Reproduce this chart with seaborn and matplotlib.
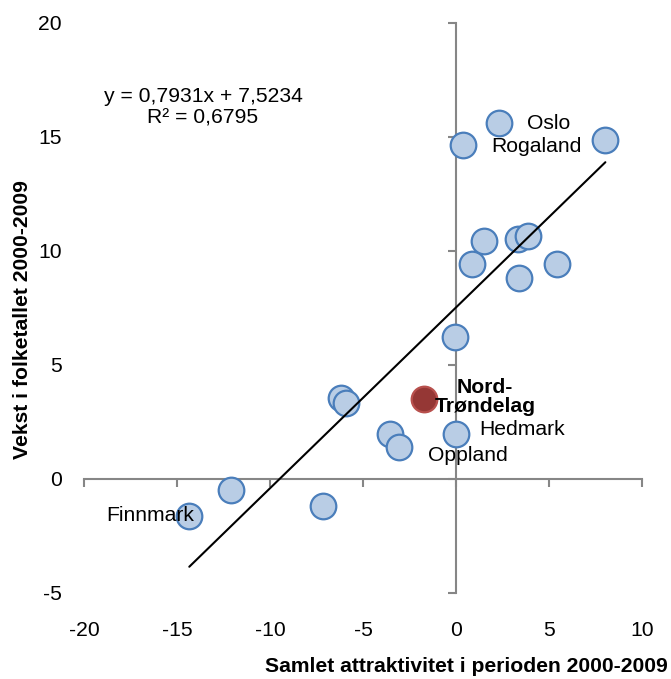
import numpy as np
import pandas as pd
import matplotlib.pyplot as plt
import seaborn as sns

# data
attraktivitet = [-14.34, -12.11, -7.13, -6.18, -5.91, -3.55, -3.05, 0.0, -0.05,
                 0.36, 0.88, 1.51, 2.31, 3.35, 3.85, 3.40, 5.43, 8.03]
vekst = [-1.62, -0.48, -1.17, 3.54, 3.35, 1.96, 1.39, 1.96, 6.24,
         14.65, 9.42, 10.45, 15.63, 10.54, 10.66, 8.80, 9.44, 14.87]
nt_x = [-1.70]
nt_y = [3.49]
slope, intercept = 0.7931, 7.5234
x_ticks = [-20, -15, -10, -5, 0, 5, 10]
y_ticks = [-5, 0, 5, 10, 15, 20]

sns.set_style('white')
plt.rcParams['font.family'] = ['Liberation Sans', 'DejaVu Sans']
plt.rcParams['axes.unicode_minus'] = False
plt.rcParams['text.color'] = 'black'
plt.rcParams['xtick.color'] = 'black'
plt.rcParams['ytick.color'] = 'black'
fs = 15.2

grey = '#868686'
fig = plt.figure(figsize=(6.71, 6.79), dpi=100)
ax = fig.add_axes([0.1252, 0.1267, 0.8316, 0.8395])

df = pd.DataFrame({'x': attraktivitet, 'y': vekst})
sns.scatterplot(data=df, x='x', y='y', s=340, color='#B9CDE5', edgecolor='#4A7EBB',
                linewidth=1.6, zorder=3, ax=ax)
sns.scatterplot(x=nt_x, y=nt_y, s=340, color='#953735', edgecolor='#B8504D',
                linewidth=1.6, zorder=3, ax=ax)

# trend line over the data range
tx = np.array([min(attraktivitet), max(attraktivitet)])
sns.lineplot(x=tx, y=slope * tx + intercept, color='black', linewidth=1.5, zorder=4, ax=ax)

ax.set_xlim(-20, 10)
ax.set_ylim(-5, 20)
ax.set_xlabel('')
ax.set_ylabel('')

# axes cross at zero
for s in ['top', 'right']:
    ax.spines[s].set_visible(False)
for s in ['left', 'bottom']:
    ax.spines[s].set_position(('data', 0))
    ax.spines[s].set_color(grey)
    ax.spines[s].set_linewidth(1.5)
ax.set_xticks(x_ticks)
ax.set_yticks(y_ticks)
ax.tick_params(axis='both', direction='out', length=6, width=1.5, color=grey,
               bottom=True, left=True, labelbottom=False, labelleft=False)

# tick labels at the frame edges
secx = ax.secondary_xaxis('bottom')
secx.set_xticks(x_ticks)
secx.tick_params(length=0, pad=20.5, labelsize=fs)
secx.spines['bottom'].set_visible(False)
secy = ax.secondary_yaxis('left')
secy.set_yticks(y_ticks)
secy.tick_params(length=0, pad=16, labelsize=fs)
secy.spines['left'].set_visible(False)

ax.text(-13.6, 16.3, 'y = 0,7931x + 7,5234\nR² = 0,6795', ha='center', va='center',
        fontsize=fs, linespacing=1.2)
ax.text(5.0, 15.57, 'Oslo', ha='center', va='center', fontsize=fs)
ax.text(4.3, 14.6, 'Rogaland', ha='center', va='center', fontsize=fs)
ax.text(-16.45, -1.62, 'Finnmark', ha='center', va='center', fontsize=fs)
ax.text(3.55, 2.15, 'Hedmark', ha='center', va='center', fontsize=fs)
ax.text(0.65, 1.05, 'Oppland', ha='center', va='center', fontsize=fs)
ax.text(1.56, 3.6, 'Nord-\nTrøndelag', ha='center', va='center', fontsize=fs,
        fontweight='bold', linespacing=1.05)

fig.text(668 / 671, 1 - 667 / 679, 'Samlet attraktivitet i perioden 2000-2009',
         ha='right', va='center', fontsize=fs, fontweight='bold')
fig.text(23 / 671, 1 - 320 / 679, 'Vekst i folketallet 2000-2009', rotation=90,
         ha='center', va='center', fontsize=fs, fontweight='bold')

fig.savefig('out.png', dpi=100)
